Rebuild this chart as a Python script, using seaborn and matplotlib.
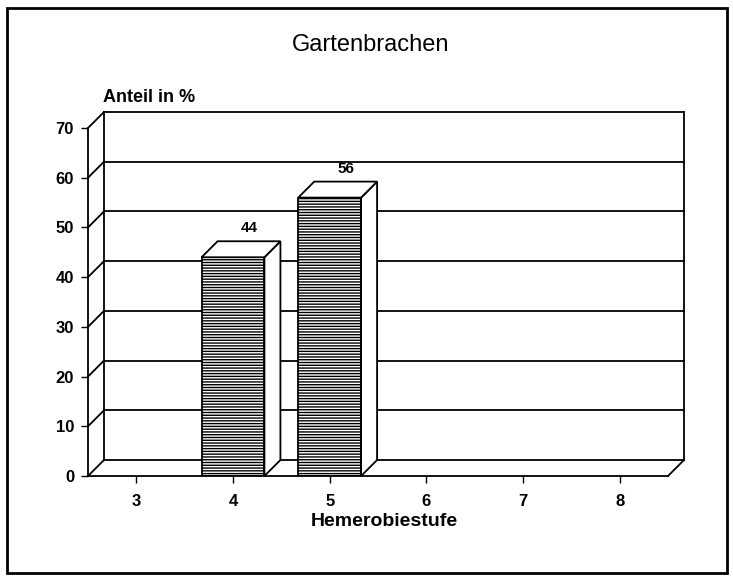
import numpy as np
import matplotlib
matplotlib.use('Agg')
import matplotlib.pyplot as plt
import seaborn as sns
from matplotlib.patches import Polygon, Rectangle

# Hemerobie levels and share of Gartenbrachen in each (%)
stufen = ['3', '4', '5', '6', '7', '8']
anteil = [0, 44, 56, 0, 0, 0]
y_ticks = [0, 10, 20, 30, 40, 50, 60, 70]

sns.set_style('white')
plt.rcParams['font.family'] = ['Liberation Sans', 'DejaVu Sans']
plt.rcParams['hatch.linewidth'] = 1.0
plt.rcParams['text.color'] = 'black'
plt.rcParams['xtick.color'] = 'black'
plt.rcParams['ytick.color'] = 'black'

fig = plt.figure(figsize=(7.33, 5.76), dpi=100)
W, H = 733, 576
ax = fig.add_axes([88 / W, 100 / H, 580 / W, 348 / H])

sns.barplot(x=stufen, y=anteil, order=stufen, color='white', edgecolor='black',
            linewidth=1.3, width=0.65, hatch='------', saturation=1, ax=ax, zorder=3)

ax.set_xlim(-0.5, len(stufen) - 0.5)
ax.set_ylim(0, 70)
ax.set_yticks(y_ticks)

# depth of the pseudo-3D box: 16 px right and up, in data units
p0 = ax.transData.transform((0, 0))
inv = ax.transData.inverted()
dx, dy = inv.transform(p0 + np.array([16, 16])) - inv.transform(p0)

x0, x1 = -0.5, len(stufen) - 0.5
lw = 1.3
line_kw = dict(color='black', lw=lw, clip_on=False, zorder=1, solid_capstyle='projecting')

# back wall grid + left wall diagonals
for t in y_ticks:
    ax.plot([x0 + dx, x1 + dx], [t + dy, t + dy], **line_kw)
    ax.plot([x0, x0 + dx], [t, t + dy], **line_kw)
ax.plot([x0 + dx, x0 + dx], [dy, 70 + dy], **line_kw)
ax.plot([x1 + dx, x1 + dx], [dy, 70 + dy], **line_kw)
ax.plot([x1, x1 + dx], [0, dy], **line_kw)

# side and top faces of each bar
for bar, val in zip(ax.patches, anteil):
    if val <= 0:
        bar.set_visible(False)
        continue
    bx = bar.get_x()
    bw = bar.get_width()
    h = bar.get_height()
    side = Polygon([(bx + bw, 0), (bx + bw + dx, dy), (bx + bw + dx, h + dy), (bx + bw, h)],
                   closed=True, facecolor='white', edgecolor='black', lw=lw,
                   zorder=3, clip_on=False)
    top = Polygon([(bx, h), (bx + bw, h), (bx + bw + dx, h + dy), (bx + dx, h + dy)],
                  closed=True, facecolor='white', edgecolor='black', lw=lw,
                  zorder=3, clip_on=False)
    ax.add_patch(side)
    ax.add_patch(top)
    ax.text(bx + bw / 2 + dx, h + dy + 1.2, f'{val}', ha='center', va='bottom',
            fontsize=11, fontweight='bold', zorder=4)

for s in ['top', 'right']:
    ax.spines[s].set_visible(False)
for s in ['left', 'bottom']:
    ax.spines[s].set_linewidth(lw)
    ax.spines[s].set_color('black')
    ax.spines[s].set_zorder(4)

ax.tick_params(axis='both', direction='out', length=5, width=1, color='black',
               labelcolor='black', labelsize=12, left=True, bottom=True)
ax.tick_params(axis='y', pad=5)
ax.tick_params(axis='x', pad=8)
for lab in ax.get_xticklabels() + ax.get_yticklabels():
    lab.set_fontweight('bold')
ax.set_xlabel('')
ax.set_ylabel('')

fig.text(371 / W, 1 - 45 / H, 'Gartenbrachen', ha='center', va='center',
         fontsize=17, color='black')
fig.text(103 / W, 1 - 97 / H, 'Anteil in %', ha='left', va='center',
         fontsize=13, fontweight='bold', color='black')
fig.text(384 / W, 1 - 522 / H, 'Hemerobiestufe', ha='center', va='center',
         fontsize=14, fontweight='bold', color='black')

# outer frame
fig.patches.append(Rectangle((7 / W, 3 / H), 720 / W, 565 / H, transform=fig.transFigure,
                             fill=False, edgecolor='black', lw=2))

fig.savefig('out.png', dpi=100)
